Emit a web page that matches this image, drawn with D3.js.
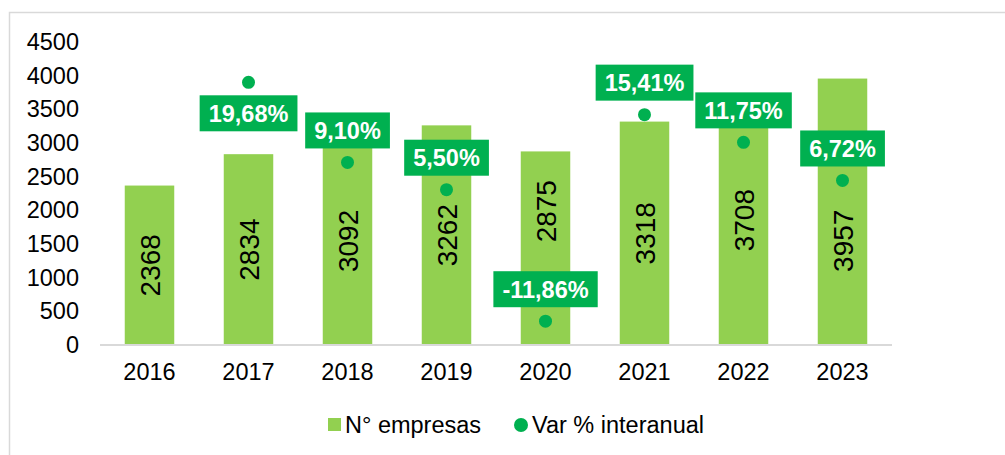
<!DOCTYPE html>
<html>
<head>
<meta charset="utf-8">
<script src="https://cdn.jsdelivr.net/npm/d3@7"></script>
<style>
  html, body { margin: 0; padding: 0; background: #fff; }
  svg { display: block; font-family: "Liberation Sans", Arial, sans-serif; }
</style>
</head>
<body>
<div class="chart"></div>
<script>
const years = ["2016", "2017", "2018", "2019", "2020", "2021", "2022", "2023"];
const empresas = [2368, 2834, 3092, 3262, 2875, 3318, 3708, 3957];
const varPct = [null, 19.68, 9.10, 5.50, -11.86, 15.41, 11.75, 6.72];
const yTicks = [0, 500, 1000, 1500, 2000, 2500, 3000, 3500, 4000, 4500];
// label sits under the point only for 2017
const labelBelow = [false, true, false, false, false, false, false, false];
// bar value labels moved by hand in the original (px, + = down)
const valueShift = [0, 0, 0, 0, -37, 0, 0, 29];

const W = 1005, H = 455;
const barColor = "#92d050", dotColor = "#00b050";
const fontSize = 23.5;
const fontFam = "Liberation Sans, Arial, sans-serif";

const svg = d3.select(".chart").append("svg")
    .attr("width", W)
    .attr("height", H);

// outer frame (only top and left visible)
svg.append("rect")
    .attr("x", 9.5).attr("y", 12.5)
    .attr("width", 1100).attr("height", 600)
    .attr("fill", "none")
    .attr("stroke", "#d9d9d9")
    .attr("stroke-width", 1.5);

const x = d3.scaleBand().domain(years).range([100, 892])
    .paddingInner(0.5).paddingOuter(0.25);
const y = d3.scaleLinear().domain([0, 4500]).range([345, 42]);
const y2 = d3.scaleLinear().domain([-15, 25]).range([345, 42]);

// y axis labels
const yAxis = svg.append("g")
    .attr("transform", "translate(86,0)")
    .call(d3.axisLeft(y).tickValues(yTicks).tickFormat(d3.format("d")).tickSize(0).tickPadding(7));
yAxis.select(".domain").remove();
yAxis.selectAll("text")
    .attr("font-size", fontSize)
    .attr("font-family", fontFam)
    .attr("fill", "#000");

// bars
svg.append("g").selectAll("rect")
    .data(years)
    .join("rect")
    .attr("x", d => x(d))
    .attr("y", (d, i) => y(empresas[i]))
    .attr("width", x.bandwidth())
    .attr("height", (d, i) => y(0) - y(empresas[i]))
    .attr("fill", barColor);

// x axis
const xAxis = svg.append("g")
    .attr("transform", `translate(0,${y(0)})`)
    .call(d3.axisBottom(x).tickSize(0).tickPadding(18));
xAxis.select(".domain")
    .attr("stroke", "#d9d9d9")
    .attr("stroke-width", 2)
    .attr("d", "M100,0H892");
xAxis.selectAll("text")
    .attr("font-size", fontSize)
    .attr("font-family", fontFam)
    .attr("fill", "#000");

// bar values, rotated
svg.append("g").selectAll("text")
    .data(years)
    .join("text")
    .attr("transform", (d, i) => {
        const cx = x(d) + x.bandwidth() / 2;
        const cy = (y(empresas[i]) + y(0)) / 2 + valueShift[i];
        return `translate(${cx},${cy}) rotate(-90)`;
    })
    .attr("text-anchor", "middle")
    .attr("dy", "0.36em")
    .attr("font-size", 28)
    .attr("fill", "#000")
    .text((d, i) => empresas[i]);

// variation points
const pts = years.map((d, i) => ({ year: d, v: varPct[i], below: labelBelow[i] }))
    .filter(p => p.v !== null);

svg.append("g").selectAll("circle")
    .data(pts)
    .join("circle")
    .attr("cx", p => x(p.year) + x.bandwidth() / 2)
    .attr("cy", p => y2(p.v))
    .attr("r", 6.5)
    .attr("fill", dotColor);

const fmt = v => v.toFixed(2).replace(".", ",") + "%";

const lbl = svg.append("g").selectAll("g")
    .data(pts)
    .join("g")
    .attr("transform", p => {
        const cx = x(p.year) + x.bandwidth() / 2;
        const cy = y2(p.v) + (p.below ? 31 : -32);
        return `translate(${cx},${cy})`;
    });

lbl.append("text")
    .attr("text-anchor", "middle")
    .attr("dy", "0.36em")
    .attr("font-size", fontSize)
    .attr("font-weight", "bold")
    .attr("fill", "#fff")
    .text(p => fmt(p.v));

lbl.each(function () {
    const g = d3.select(this);
    const bb = g.select("text").node().getBBox();
    g.insert("rect", "text")
        .attr("x", bb.x - 9)
        .attr("y", -18)
        .attr("width", bb.width + 18)
        .attr("height", 36)
        .attr("fill", dotColor);
});

// legend
const legend = svg.append("g");
legend.append("rect")
    .attr("x", 328).attr("y", 418)
    .attr("width", 13).attr("height", 13)
    .attr("fill", barColor);
legend.append("text")
    .attr("x", 345).attr("y", 433)
    .attr("font-size", fontSize)
    .attr("fill", "#000")
    .text("N° empresas");
legend.append("circle")
    .attr("cx", 521).attr("cy", 425)
    .attr("r", 7)
    .attr("fill", dotColor);
legend.append("text")
    .attr("x", 532).attr("y", 433)
    .attr("font-size", fontSize)
    .attr("fill", "#000")
    .text("Var % interanual");
</script>
</body>
</html>
